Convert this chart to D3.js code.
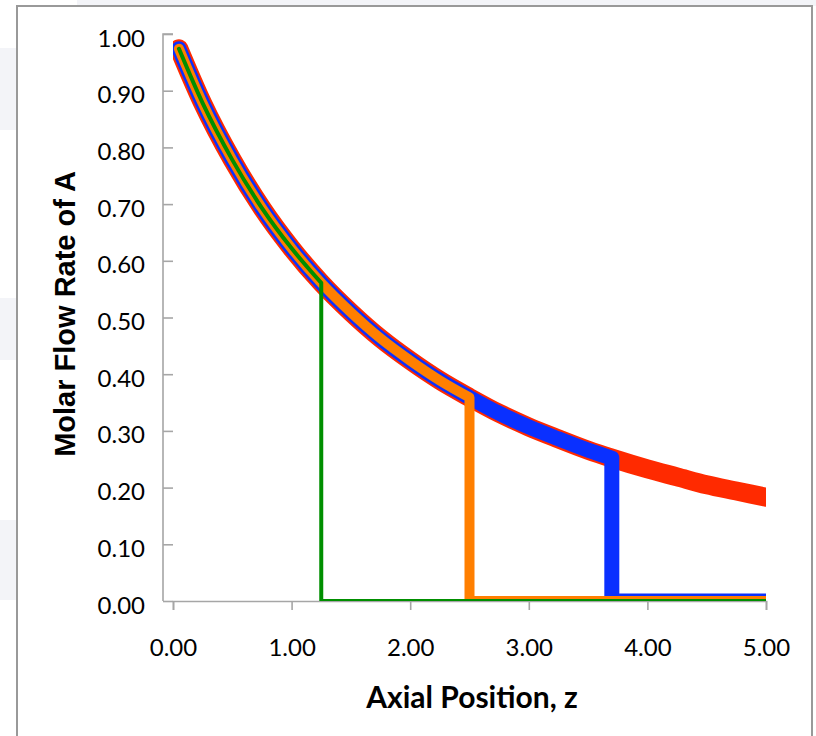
<!DOCTYPE html>
<html>
<head>
<meta charset="utf-8">
<script src="https://cdn.jsdelivr.net/npm/d3@7"></script>
<style>
  html, body { margin: 0; padding: 0; background: #fff; }
  svg { display: block; }
</style>
</head>
<body>
<div id="chart"></div>
<script>
const zVals  = [0.05, 0.25, 0.5, 0.75, 1.0, 1.25, 1.5, 1.75, 2.0, 2.25, 2.5, 2.75, 3.0, 3.25, 3.5, 3.7, 4.0, 4.25, 4.5, 4.75, 5.0];
const flowA  = [0.974, 0.878, 0.778, 0.693, 0.622, 0.561, 0.509, 0.463, 0.424, 0.389, 0.359, 0.331, 0.307, 0.286, 0.266, 0.252, 0.233, 0.219, 0.205, 0.194, 0.183];

// each series follows the curve up to its cut, then drops to zero
const seriesCut = [5.0, 3.7, 2.5, 1.25];
const xTicks = [0, 1, 2, 3, 4, 5];
const yTicks = [0, 0.1, 0.2, 0.3, 0.4, 0.5, 0.6, 0.7, 0.8, 0.9, 1.0];

const W = 816, H = 736;
const P = { left: 173, right: 766, top: 34, bottom: 601 };
const COLORS = ["#ff2a00", "#0a30ff", "#ff7f00", "#008f00"];
const WIDTHS = [19, 15, 10, 4];
const AXIS = "#a6a6a6";

const svg = d3.select("#chart").append("svg").attr("width", W).attr("height", H);

// faint slide background peeking round the chart frame
const bg = svg.append("g").attr("fill", "#f3f4f8");
bg.append("rect").attr("x", 77).attr("y", 0).attr("width", W - 77).attr("height", 6);
[[48, 82], [298, 62], [520, 80]].forEach(([y0, h]) =>
  bg.append("rect").attr("x", 0).attr("y", y0).attr("width", 16).attr("height", h));

svg.append("rect").attr("x", 17).attr("y", 6).attr("width", 795).attr("height", H + 10)
  .attr("fill", "#fff").attr("stroke", "#999").attr("stroke-width", 2);

const x = d3.scaleLinear().domain([0, 5]).range([P.left, P.right]);
const y = d3.scaleLinear().domain([0, 1]).range([P.bottom, P.top]);

svg.append("defs").append("clipPath").attr("id", "plot")
  .append("rect").attr("x", P.left).attr("y", P.top)
  .attr("width", P.right - P.left).attr("height", P.bottom - P.top);

// axes
const yAx = svg.append("g").attr("transform", `translate(${P.left},0)`)
  .call(d3.axisLeft(y).tickValues(yTicks).tickSize(10).tickPadding(18).tickFormat(d3.format(".2f")));
const xAx = svg.append("g").attr("transform", `translate(0,${P.bottom})`)
  .call(d3.axisBottom(x).tickValues(xTicks).tickSize(9).tickPadding(29).tickFormat(d3.format(".2f")));
[yAx, xAx].forEach(a => {
  a.select(".domain").attr("stroke", AXIS).attr("stroke-width", 1.6);
  a.selectAll(".tick line").attr("stroke", AXIS).attr("stroke-width", 1.6);
  a.selectAll("text").attr("fill", "#000").style("font-family", "Lato, sans-serif").style("font-size", "24px");
});
yAx.select(".domain").attr("d", `M0,${P.top}H-10V${P.top}V${P.bottom}`);
yAx.selectAll(".tick text").attr("dy", "0.5em");

// series
const curve = d3.line().x(d => x(d[0])).y(d => y(d[1])).curve(d3.curveMonotoneX);
const lines = svg.append("g").attr("clip-path", "url(#plot)");
seriesCut.forEach((cut, i) => {
  const pts = zVals.map((z, j) => [z, flowA[j]]).filter(p => p[0] <= cut + 1e-9);
  let d = curve(pts);
  if (cut < 5) d += `L${x(cut)},${y(0)}L${x(5)},${y(0)}`;
  lines.append("path").attr("d", d).attr("fill", "none")
    .attr("stroke", COLORS[i]).attr("stroke-width", WIDTHS[i])
    .attr("stroke-linecap", "round").attr("stroke-linejoin", "round");
});

// titles
svg.append("text").attr("transform", `translate(75,314) rotate(-90)`)
  .attr("text-anchor", "middle").style("font-family", "'Liberation Sans', Arial, sans-serif")
  .style("font-weight", 700).style("font-size", "29px").text("Molar Flow Rate of A");
svg.append("text").attr("x", 472).attr("y", 708).attr("text-anchor", "middle")
  .style("font-family", "Lato, sans-serif").style("font-weight", 700).style("font-size", "30px")
  .text("Axial Position, z");
</script>
</body>
</html>
